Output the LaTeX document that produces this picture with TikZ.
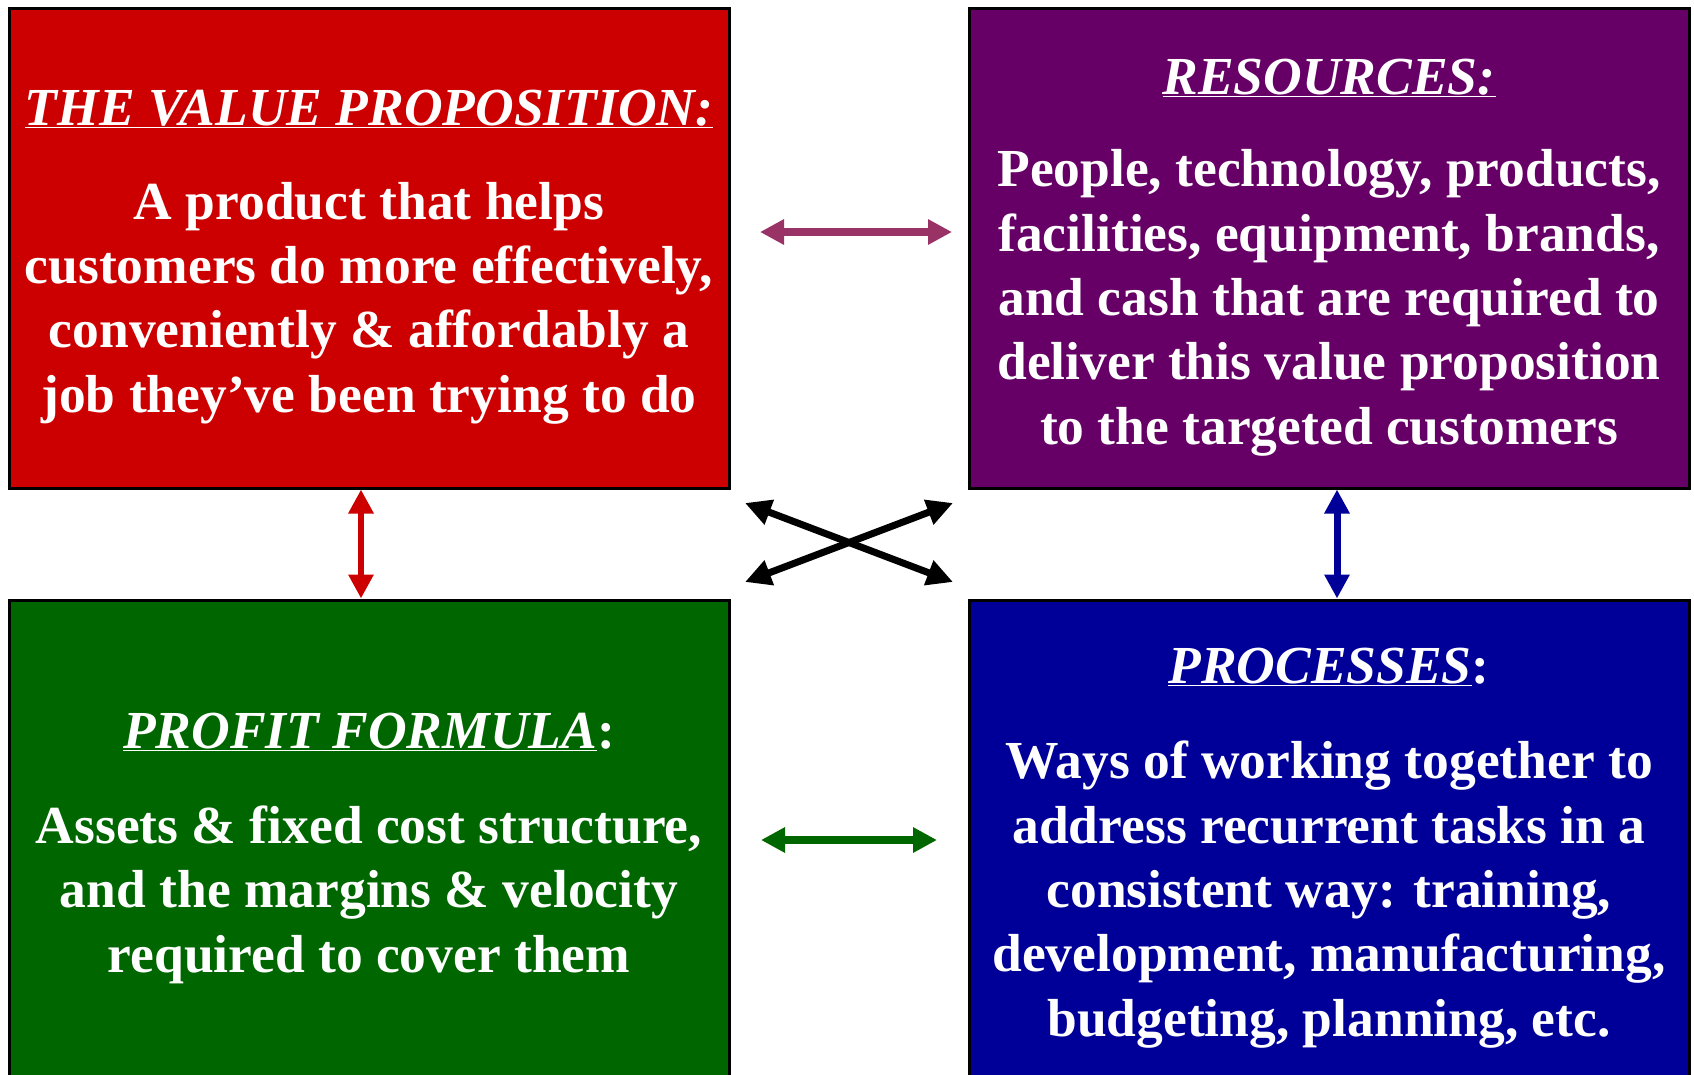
\documentclass[tikz,border=0pt]{standalone}
\usepackage{fontspec}
\setmainfont{Liberation Serif}
\usetikzlibrary{arrows.meta}
\definecolor{vpred}{HTML}{CC0000}
\definecolor{respurple}{HTML}{660066}
\definecolor{pfgreen}{HTML}{006600}
\definecolor{prblue}{HTML}{000099}
\definecolor{linkpurple}{HTML}{993366}
\begin{document}
\begin{tikzpicture}
  [x=1pt, y=-1pt, >={Triangle[length=24pt, width=24pt]},
   box/.style = {draw=black, line width=3pt, minimum width=720pt, inner sep=0pt},
   head/.style = {text=white, font=\bfseries\fontsize{53.5}{64}\selectfont, inner sep=0pt, anchor=base},
   body/.style = {text=white, align=center, font=\bfseries\fontsize{53.5}{64.3}\selectfont, inner sep=0pt, anchor=base},
   link/.style = {<->, line width=8pt}]
  \useasboundingbox (0,0) rectangle (1694,1074);
  \clip (0,0) rectangle (1694,1074);
  % the four boxes
  \node[box, fill=vpred, minimum height=480pt] (vp) at (369,248) {};
  \node[box, fill=respurple, minimum height=480pt] (res) at (1329,248) {};
  \node[box, fill=pfgreen, minimum height=490pt] (pf) at (369,845) {};
  \node[box, fill=prblue, minimum height=490pt] (pr) at (1329,845) {};
  % texts (body nodes sit on their last line)
  \node[head] (vphead) at (369,125) {\underline{\textit{THE VALUE PROPOSITION:}}};
  \node[body] (vpbody) at (369,412) {A product that helps\\customers do more effectively,\\conveniently \& affordably a\\job they’ve been trying to do};
  \node[head] (reshead) at (1329,94) {\underline{\textit{RESOURCES:}}};
  \node[body] (resbody) at (1329,444) {People, technology, products,\\facilities, equipment, brands,\\and cash that are required to\\deliver this value proposition\\to the targeted customers};
  \node[head] (pfhead) at (369,748) {\underline{\textit{PROFIT FORMULA}}:};
  \node[body] (pfbody) at (369,972) {Assets \& fixed cost structure,\\and the margins \& velocity\\required to cover them};
  \node[head] (prhead) at (1329,683) {\underline{\textit{PROCESSES}}:};
  \node[body] (prbody) at (1329,1036) {Ways of working together to\\address recurrent tasks in a\\consistent way: training,\\development, manufacturing,\\budgeting, planning, etc.};
  % links
  \draw[link, linkpurple, shorten <=29.5pt, shorten >=15.5pt]
    ([yshift=16pt]vp.east) -- ([yshift=16pt]res.west);
  \draw[link, pfgreen, shorten <=30.5pt, shorten >=30.5pt]
    ([yshift=5pt]pf.east) -- ([yshift=5pt]pr.west);
  \draw[link, vpred, line width=6pt] ([xshift=-8pt]vp.south) -- ([xshift=-8pt]pf.north);
  \draw[link, prblue, line width=7pt] ([xshift=8pt]res.south) -- ([xshift=8pt]pr.north);
  \coordinate (ul) at (745,503);
  \coordinate (ur) at (953,503);
  \coordinate (ll) at (745,582);
  \coordinate (lr) at (953,582);
  \draw[link, black, line width=7pt, >={Triangle[length=26pt, width=25pt]}] (ul) -- (lr);
  \draw[link, black, line width=7pt, >={Triangle[length=26pt, width=25pt]}] (ll) -- (ur);
\end{tikzpicture}
\end{document}
